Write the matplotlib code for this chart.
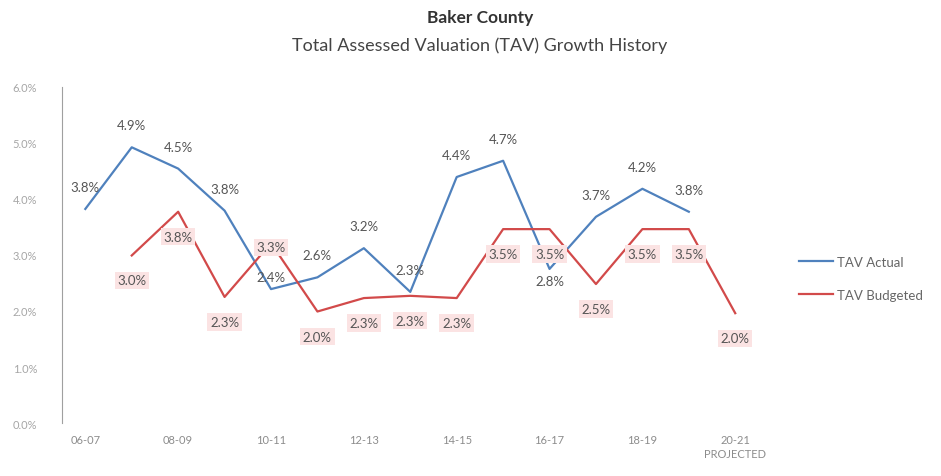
import matplotlib.pyplot as plt

plt.rcParams['font.family'] = ['Lato', 'DejaVu Sans']

# DATA
years = ["06-07", "07-08", "08-09", "09-10", "10-11", "11-12", "12-13", "13-14",
         "14-15", "15-16", "16-17", "17-18", "18-19", "19-20", "20-21"]
tick_labels = ["06-07", "08-09", "10-11", "12-13", "14-15", "16-17", "18-19", "20-21\nPROJECTED"]

actual = [3.82, 4.92, 4.54, 3.79, 2.39, 2.6, 3.12, 2.34, 4.39, 4.68, 2.75, 3.68, 4.18, 3.77, None]
actual_labels = ["3.8%", "4.9%", "4.5%", "3.8%", "2.4%", "2.6%", "3.2%", "2.3%",
                 "4.4%", "4.7%", "2.8%", "3.7%", "4.2%", "3.8%", None]

budgeted = [None, 2.99, 3.77, 2.25, 3.21, 1.99, 2.23, 2.27, 2.23, 3.46, 3.46, 2.48, 3.46, 3.46, 1.96]
budgeted_labels = [None, "3.0%", "3.8%", "2.3%", "3.3%", "2.0%", "2.3%", "2.3%", "2.3%",
                   "3.5%", "3.5%", "2.5%", "3.5%", "3.5%", "2.0%"]

blue = "#4F81BD"
red = "#D24A4A"

fig = plt.figure(figsize=(9.41, 4.77), dpi=100)
ax = fig.add_axes([0.066, 0.111, 0.74, 0.705])

xs = list(range(len(years)))
a_x = [x for x, v in zip(xs, actual) if v is not None]
a_y = [v for v in actual if v is not None]
b_x = [x for x, v in zip(xs, budgeted) if v is not None]
b_y = [v for v in budgeted if v is not None]

ax.plot(a_x, a_y, color=blue, lw=1.6, label="TAV Actual")
ax.plot(b_x, b_y, color=red, lw=1.6, label="TAV Budgeted")

# actual labels sit above the points (10-11 and 16-17 differ)
for x, v, t in zip(xs, actual, actual_labels):
    if v is None:
        continue
    dy = 22
    if x == 4:
        dy = 12
    if x == 10:
        dy = -12
    ax.annotate(t, (x, v), xytext=(0, dy), textcoords="offset pixels",
                ha="center", va="center", fontsize=9.5, color="#555555")

# budgeted labels below the points, pink box
for x, v, t in zip(xs, budgeted, budgeted_labels):
    if v is None:
        continue
    dy = -25
    if x == 4:
        dy = -4
    ax.annotate(t, (x, v), xytext=(0, dy), textcoords="offset pixels",
                ha="center", va="center", fontsize=9.5, color="#555555",
                bbox=dict(boxstyle="square,pad=0.2", fc="#FBE3E3", ec="none"))

ax.set_xlim(-0.5, len(years) - 0.5)
ax.set_ylim(0, 6)
ax.set_xticks(xs[::2])
ax.set_xticklabels(tick_labels, fontsize=8, color="#8c8c8c", linespacing=1.3)
ax.set_yticks([0, 1, 2, 3, 4, 5, 6])
ax.set_yticklabels([f"{v:.1f}%" for v in range(7)], fontsize=8, color="#a6a6a6")
ax.tick_params(axis="x", length=0, pad=8)
ax.tick_params(axis="y", length=0, pad=18)

for s in ["top", "right", "bottom"]:
    ax.spines[s].set_visible(False)
ax.spines["left"].set_color("#a0a0a0")

fig.legend(loc="center left", bbox_to_anchor=(0.836, 0.414), frameon=False,
           fontsize=9.5, handlelength=2.6, handletextpad=0.3, labelspacing=1.6,
           labelcolor="#666666")

fig.text(0.51, 0.962, "Baker County", ha="center", va="center", fontsize=12.5,
         fontweight="bold", color="#333333")
fig.text(0.51, 0.905, "Total Assessed Valuation (TAV) Growth History", ha="center",
         va="center", fontsize=13, color="#444444")

fig.savefig("out.png", dpi=100)
